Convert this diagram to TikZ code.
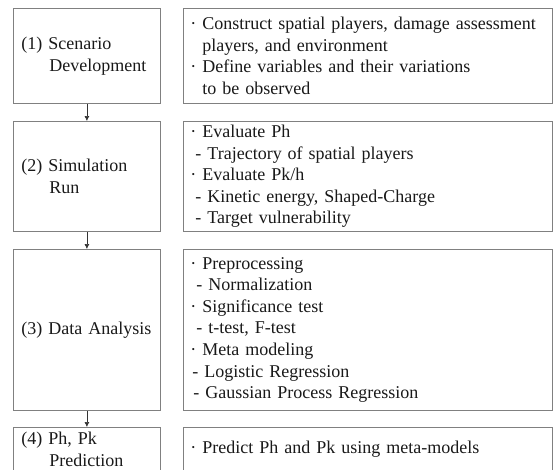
\documentclass[tikz,border=0pt]{standalone}
\usepackage{fontspec}
\setmainfont{Liberation Serif}
\usetikzlibrary{arrows.meta,positioning}

\newcommand{\itm}{\makebox[12pt][l]{·}}
\newcommand{\cont}{\hspace*{12pt}}

\begin{document}
\begin{tikzpicture}[x=1pt, y=-1pt,
    stepbox/.style={draw=black!50, line width=0.8pt, anchor=north west, align=left, text width=131pt, inner xsep=8pt, inner ysep=0pt, font=\fontsize{18}{21.6}\selectfont, text=black!90},
    detail/.style={stepbox, text width=355pt, inner xsep=7pt},
    flow/.style={-{Latex[length=5pt,width=5pt]}, line width=0.6pt, draw=black!80}
]
    \useasboundingbox (0,0) rectangle (553,469);
    \clip (0,0) rectangle (553,469);

    % Steps
    \node[stepbox, minimum height=95pt] (scen) at (13,8) {(1) Scenario\\\hspace*{28pt}Development};
    \node[stepbox, minimum height=110pt] (sim) at (13,121) {(2) Simulation\\\hspace*{28pt}Run};
    \node[stepbox, minimum height=161pt] (anal) at (13,249) {(3) Data Analysis};
    \node[stepbox, minimum height=44pt] (pred) at (13,427) {(4) Ph, Pk\\\hspace*{28pt}Prediction};

    % Details
    \node[detail, minimum height=95pt] (scenTxt) at (183,8) {\itm\makebox[328pt][s]{Construct spatial players, damage assessment}\\
        \cont players, and environment\\
        \itm Define variables and their variations\\
        \cont to be observed};
    \node[detail, minimum height=110pt] (simTxt) at (183,121) {\itm Evaluate Ph\\
        \hspace*{5pt}- Trajectory of spatial players\\
        \itm Evaluate Pk/h\\
        \hspace*{5pt}- Kinetic energy, Shaped-Charge\\
        \hspace*{5pt}- Target vulnerability};
    \node[detail, minimum height=161pt] (analTxt) at (183,249) {\itm Preprocessing\\
        \hspace*{6pt}- Normalization\\
        \itm Significance test\\
        \hspace*{6pt}- t-test, F-test\\
        \itm Meta modeling\\
        \hspace*{2pt}- Logistic Regression\\
        \hspace*{3pt}- Gaussian Process Regression};
    \node[detail, minimum height=44pt] (predTxt) at (183,427) {\itm Predict Ph and Pk using meta-models};

    % Flow
    \draw[flow] (scen) -- (sim);
    \draw[flow] (sim) -- (anal);
    \draw[flow] (anal) -- (pred);
\end{tikzpicture}
\end{document}
